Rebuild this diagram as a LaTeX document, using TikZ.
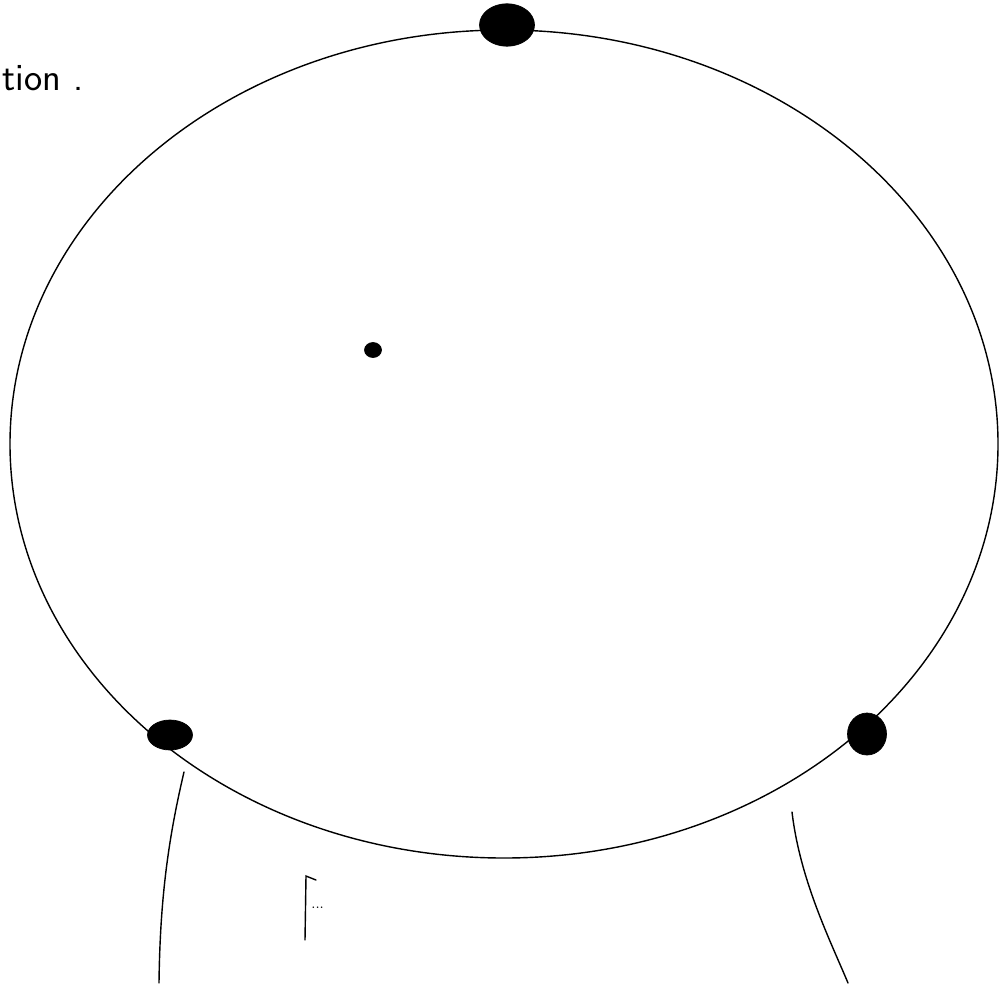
\documentclass[tikz,border=0pt]{standalone}
\usepackage{tikz}
\usetikzlibrary{positioning, shapes.geometric}

\tikzset{
  pen/.style={line width=0.8pt, line cap=round},
  blob/.style={draw, fill=black, ellipse, inner sep=0pt},
}

\begin{document}
\begin{tikzpicture}[x=0.02cm, y=-0.02cm]
      \useasboundingbox (0,0) rectangle (999,983);

      % the big loop
      \draw[pen] (504,444) ellipse [x radius=494, y radius=414];

      % marks on it
      \node[blob, minimum width=1.1cm, minimum height=0.85cm] (top) at (507,25) {};
      \node[blob, minimum width=0.9cm, minimum height=0.6cm] (lowleft) at (170,735) {};
      \node[blob, minimum width=0.78cm, minimum height=0.84cm] (lowright) at (867,734) {};
      \node[blob, minimum width=0.34cm, minimum height=0.3cm] (centre) at (373,350) {};

      % the two strokes below
      \coordinate (legLa) at (184,772);
      \coordinate (legLb) at (159,983);
      \coordinate (legRa) at (792,812);
      \coordinate (legRb) at (848,983);
      \draw[pen] (legLa) .. controls (168,840) and (160,900) .. (legLb);
      \draw[pen] (legRa) .. controls (800,880) and (830,940) .. (legRb);

      % the small bracket
      \coordinate (brA) at (316,880);
      \coordinate (brB) at (306,876);
      \coordinate (brC) at (305,940);
      \draw[pen] (brA) -- (brB) -- (brC);
      \node[font=\footnotesize, anchor=west, inner sep=0pt] (brdots) at (311,908) {...};

      \node[anchor=west, font=\sffamily\fontsize{22}{24}\selectfont, inner sep=0pt] (word) at (2,78) {tion .};
    \end{tikzpicture}
\end{document}
